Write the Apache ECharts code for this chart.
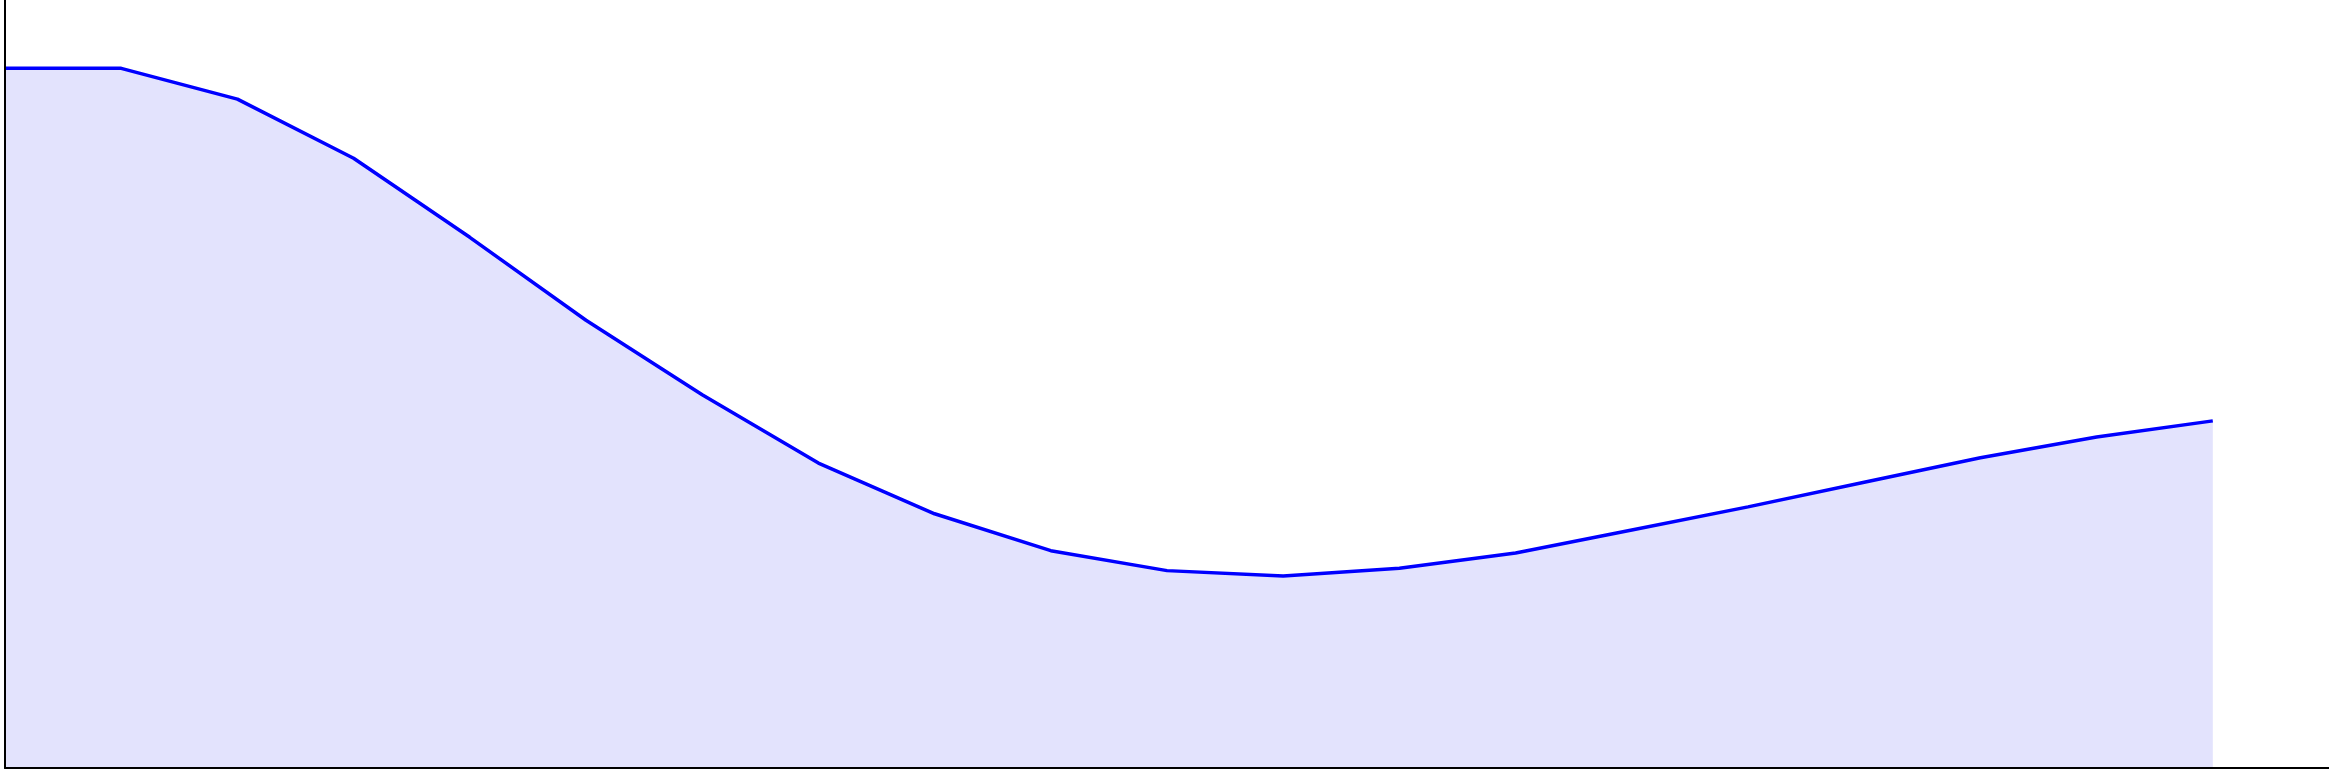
<!DOCTYPE html>
<html>
<head>
<meta charset="utf-8">
<style>
  html, body { margin: 0; padding: 0; background: #fff; }
  #chart { width: 2329px; height: 774px; }
</style>
<script src="https://cdn.jsdelivr.net/npm/echarts@6/dist/echarts.min.js"></script>
</head>
<body>
<div id="chart"></div>
<script>
// x positions (step index) and values
const steps = [0, 1, 2, 3, 4, 5, 6, 7, 8, 9, 10, 11, 12, 13, 14, 15, 16, 17, 18, 19]
const values = [91.1, 91.1, 87.1, 79.4, 69.1, 58.3, 48.6, 39.7, 33.1, 28.3, 25.7, 25.0, 26.0, 28.0, 31.0, 34.0, 37.2, 40.4, 43.1, 45.2]

const chart = echarts.init(document.getElementById('chart'), null, { renderer: 'canvas' })

chart.setOption({
  animation: false,
  grid: { left: 5, right: 0, top: 0, bottom: 6, containLabel: false },
  xAxis: {
    type: 'value',
    min: 0,
    max: 20,
    z: 5,
    axisLine: { show: true, onZero: false, lineStyle: { color: '#000', width: 2 } },
    axisTick: { show: false },
    axisLabel: { show: false },
    splitLine: { show: false }
  },
  yAxis: {
    type: 'value',
    min: 0,
    max: 100,
    z: 5,
    axisLine: { show: true, onZero: false, lineStyle: { color: '#000', width: 2 } },
    axisTick: { show: false },
    axisLabel: { show: false },
    splitLine: { show: false }
  },
  series: [{
    type: 'line',
    data: steps.map((s, i) => [s, values[i]]),
    showSymbol: false,
    lineStyle: { color: '#0000ff', width: 3.5 },
    areaStyle: { color: '#e3e3fd', opacity: 1, origin: 'start' }
  }]
})
</script>
</body>
</html>
